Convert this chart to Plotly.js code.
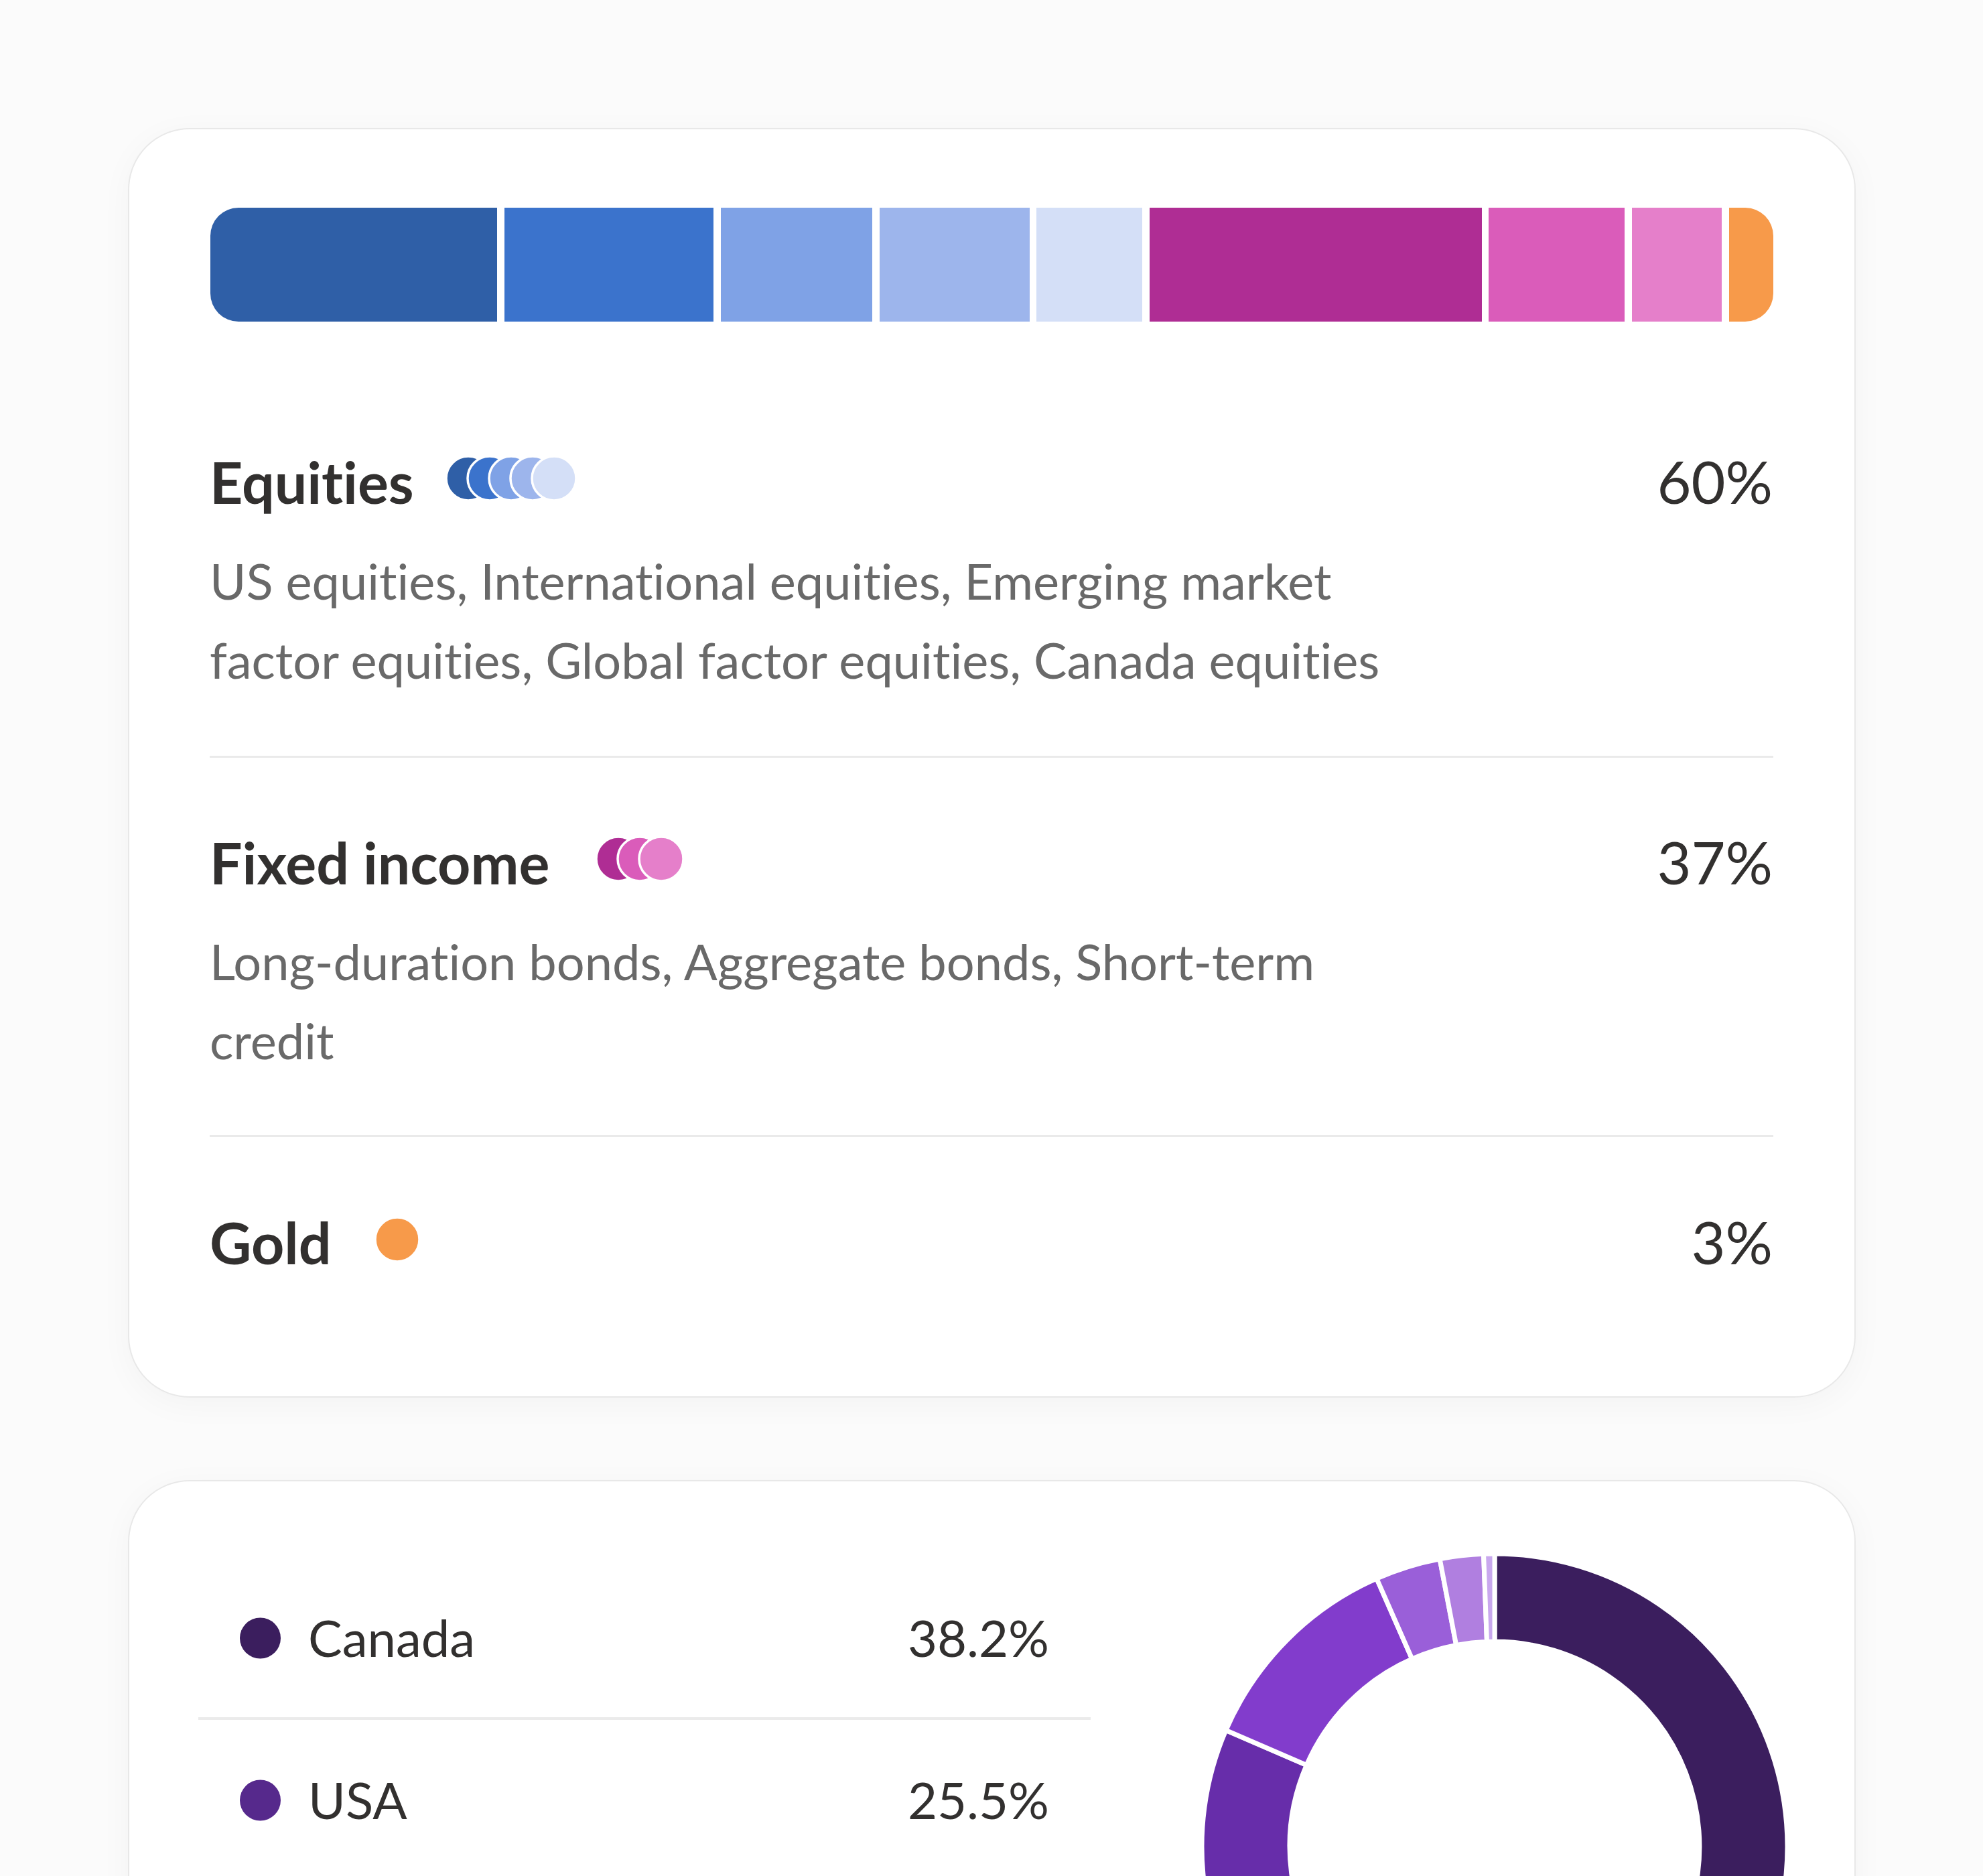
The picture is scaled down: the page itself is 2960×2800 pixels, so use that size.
<!DOCTYPE html>
<html>
<head>
<meta charset="utf-8">
<script src="https://cdn.plot.ly/plotly-3.0.1.min.js"></script>
<style>
  html, body { margin: 0; padding: 0; background: #FBFBFB; }
  #page { position: relative; width: 2960px; height: 2800px; overflow: hidden; background: #FBFBFB; font-family: Lato, sans-serif; }
  .card { position: absolute; left: 191px; width: 2575px; background: #ffffff; border: 2px solid #E8E8E8; border-radius: 92px; box-shadow: 0 10px 50px rgba(0,0,0,0.035); }
  #card1 { top: 191px; height: 1891px; }
  #card2 { top: 2209px; height: 1200px; }
  #barClip { position: absolute; left: 314px; top: 310px; width: 2333px; height: 170px; border-radius: 42px; overflow: hidden; }
  #bar { position: absolute; left: -5.4px; top: 0; width: 2344px; height: 170px; }
  #donut { position: absolute; left: 1794px; top: 2319px; width: 874px; height: 874px; }
  #overlay { position: absolute; left: 0; top: 0; width: 2960px; height: 2800px; pointer-events: none; }
  #overlay text { font-variant-ligatures: none; font-feature-settings: "liga" 0, "clig" 0; }
</style>
</head>
<body>
<div id="page">
  <div class="card" id="card1"></div>
  <div class="card" id="card2"></div>
  <div id="barClip"><div id="bar"></div></div>
  <div id="donut"></div>
  <svg id="overlay" xmlns="http://www.w3.org/2000/svg" width="2960" height="2800"></svg>
</div>
<script>
// ---------- data ----------
const segCategories = ['US equities', 'International equities', 'Emerging market factor equities',
  'Global factor equities', 'Canada equities', 'Long-duration bonds', 'Aggregate bonds',
  'Short-term credit', 'Gold'];
const segValues = [18.7, 13.8, 10.1, 10.0, 7.2, 21.6, 9.1, 6.2, 3.3];
const segColors = ['#2F5FA7', '#3B73CC', '#7FA2E6', '#9DB5EC', '#D4DFF7',
  '#AF2D94', '#DA5CBA', '#E57FCA', '#F79A4A'];

const groupNames = ['Equities', 'Fixed income', 'Gold'];
const groupTotals = ['60%', '37%', '3%'];
const groupMembers = [[0, 1, 2, 3, 4], [5, 6, 7], [8]];
const groupDescriptions = [
  ['US equities, International equities, Emerging market', 'factor equities, Global factor equities, Canada equities'],
  ['Long-duration bonds, Aggregate bonds, Short-term', 'credit'],
  []
];

const regionLabels = ['Canada', 'USA', 'Europe', 'Asia Pacific', 'Emerging markets', 'Japan', 'Other'];
const regionValues = [38.2, 25.5, 17.8, 11.9, 3.6, 2.4, 0.6];
const regionColors = ['#3B1E5E', '#56298C', '#672DAA', '#823CCC', '#9A5FD9', '#B07FE0', '#C9A8EE'];
const regionShown = 2;

// ---------- stacked allocation bar ----------
const barTraces = segCategories.map((c, i) => ({
  type: 'bar', orientation: 'h', name: c,
  x: [segValues[i]], y: ['Portfolio'],
  marker: { color: segColors[i], line: { color: '#ffffff', width: 10.7 } },
  hoverinfo: 'skip', showlegend: false
}));
Plotly.newPlot('bar', barTraces, {
  barmode: 'stack', bargap: 0, width: 2344, height: 170,
  margin: { l: 0, r: 0, t: 0, b: 0 },
  xaxis: { range: [0, 100], visible: false, fixedrange: true },
  yaxis: { range: [-0.42, 0.42], visible: false, fixedrange: true },
  paper_bgcolor: 'rgba(0,0,0,0)', plot_bgcolor: 'rgba(0,0,0,0)', showlegend: false
}, { staticPlot: true, displayModeBar: false });

// ---------- donut ----------
Plotly.newPlot('donut', [{
  type: 'pie', labels: regionLabels, values: regionValues,
  marker: { colors: regionColors, line: { color: '#ffffff', width: 7 } },
  hole: 0.7, sort: false, direction: 'clockwise', rotation: 0,
  textinfo: 'none', hoverinfo: 'skip', domain: { x: [0, 1], y: [0, 1] }
}], {
  width: 874, height: 874, margin: { l: 0, r: 0, t: 0, b: 0 },
  paper_bgcolor: 'rgba(0,0,0,0)', showlegend: false
}, { staticPlot: true, displayModeBar: false });

// ---------- text / legend overlay ----------
const svg = document.getElementById('overlay');
const NS = 'http://www.w3.org/2000/svg';
function el(tag, attrs, text) {
  const e = document.createElementNS(NS, tag);
  for (const k in attrs) e.setAttribute(k, attrs[k]);
  if (text !== undefined) e.textContent = text;
  svg.appendChild(e);
  return e;
}
const dark = '#32302F', grey = '#696969';
const headBase = [752, 1320, 1887];
const coinStart = [666, 890, 560];
const coinCy = [714, 1282, 1850];
const descBase = [[895, 1013], [1463, 1581], []];

// dividers
el('rect', { x: 313, y: 1128, width: 2334, height: 3, fill: '#EAEAEA' });
el('rect', { x: 313, y: 1694, width: 2334, height: 3, fill: '#EAEAEA' });
el('rect', { x: 296, y: 2563, width: 1332, height: 4, fill: '#EBEBEB' });

groupNames.forEach((g, gi) => {
  el('text', { x: 313, y: headBase[gi], 'font-family': 'Lato', 'font-weight': 700,
    'font-size': 86, fill: dark }, g);
  el('text', { x: 2646, y: headBase[gi], 'font-family': 'Lato', 'font-weight': 400,
    'font-size': 88, fill: dark, 'text-anchor': 'end' }, groupTotals[gi]);
  groupDescriptions[gi].forEach((line, li) => {
    el('text', { x: 313, y: descBase[gi][li], 'font-family': 'Lato', 'font-weight': 400,
      'font-size': 74, fill: grey }, line);
  });
  groupMembers[gi].forEach((si, k) => {
    el('circle', { cx: coinStart[gi] + 33 + k * 32, cy: coinCy[gi], r: 33,
      fill: segColors[si], stroke: '#ffffff', 'stroke-width': 3.5 });
  });
});

// region legend rows
const rowBase = [2473, 2715];
const dotCy = [2445, 2687];
for (let i = 0; i < regionShown; i++) {
  el('circle', { cx: 388.5, cy: dotCy[i], r: 30.5, fill: regionColors[i] });
  el('text', { x: 460, y: rowBase[i], 'font-family': 'Lato', 'font-weight': 400,
    'font-size': 76, fill: dark }, regionLabels[i]);
  el('text', { x: 1566, y: rowBase[i], 'font-family': 'Lato', 'font-weight': 400,
    'font-size': 76, fill: dark, 'text-anchor': 'end' }, regionValues[i].toFixed(1) + '%');
}
</script>
</body>
</html>
